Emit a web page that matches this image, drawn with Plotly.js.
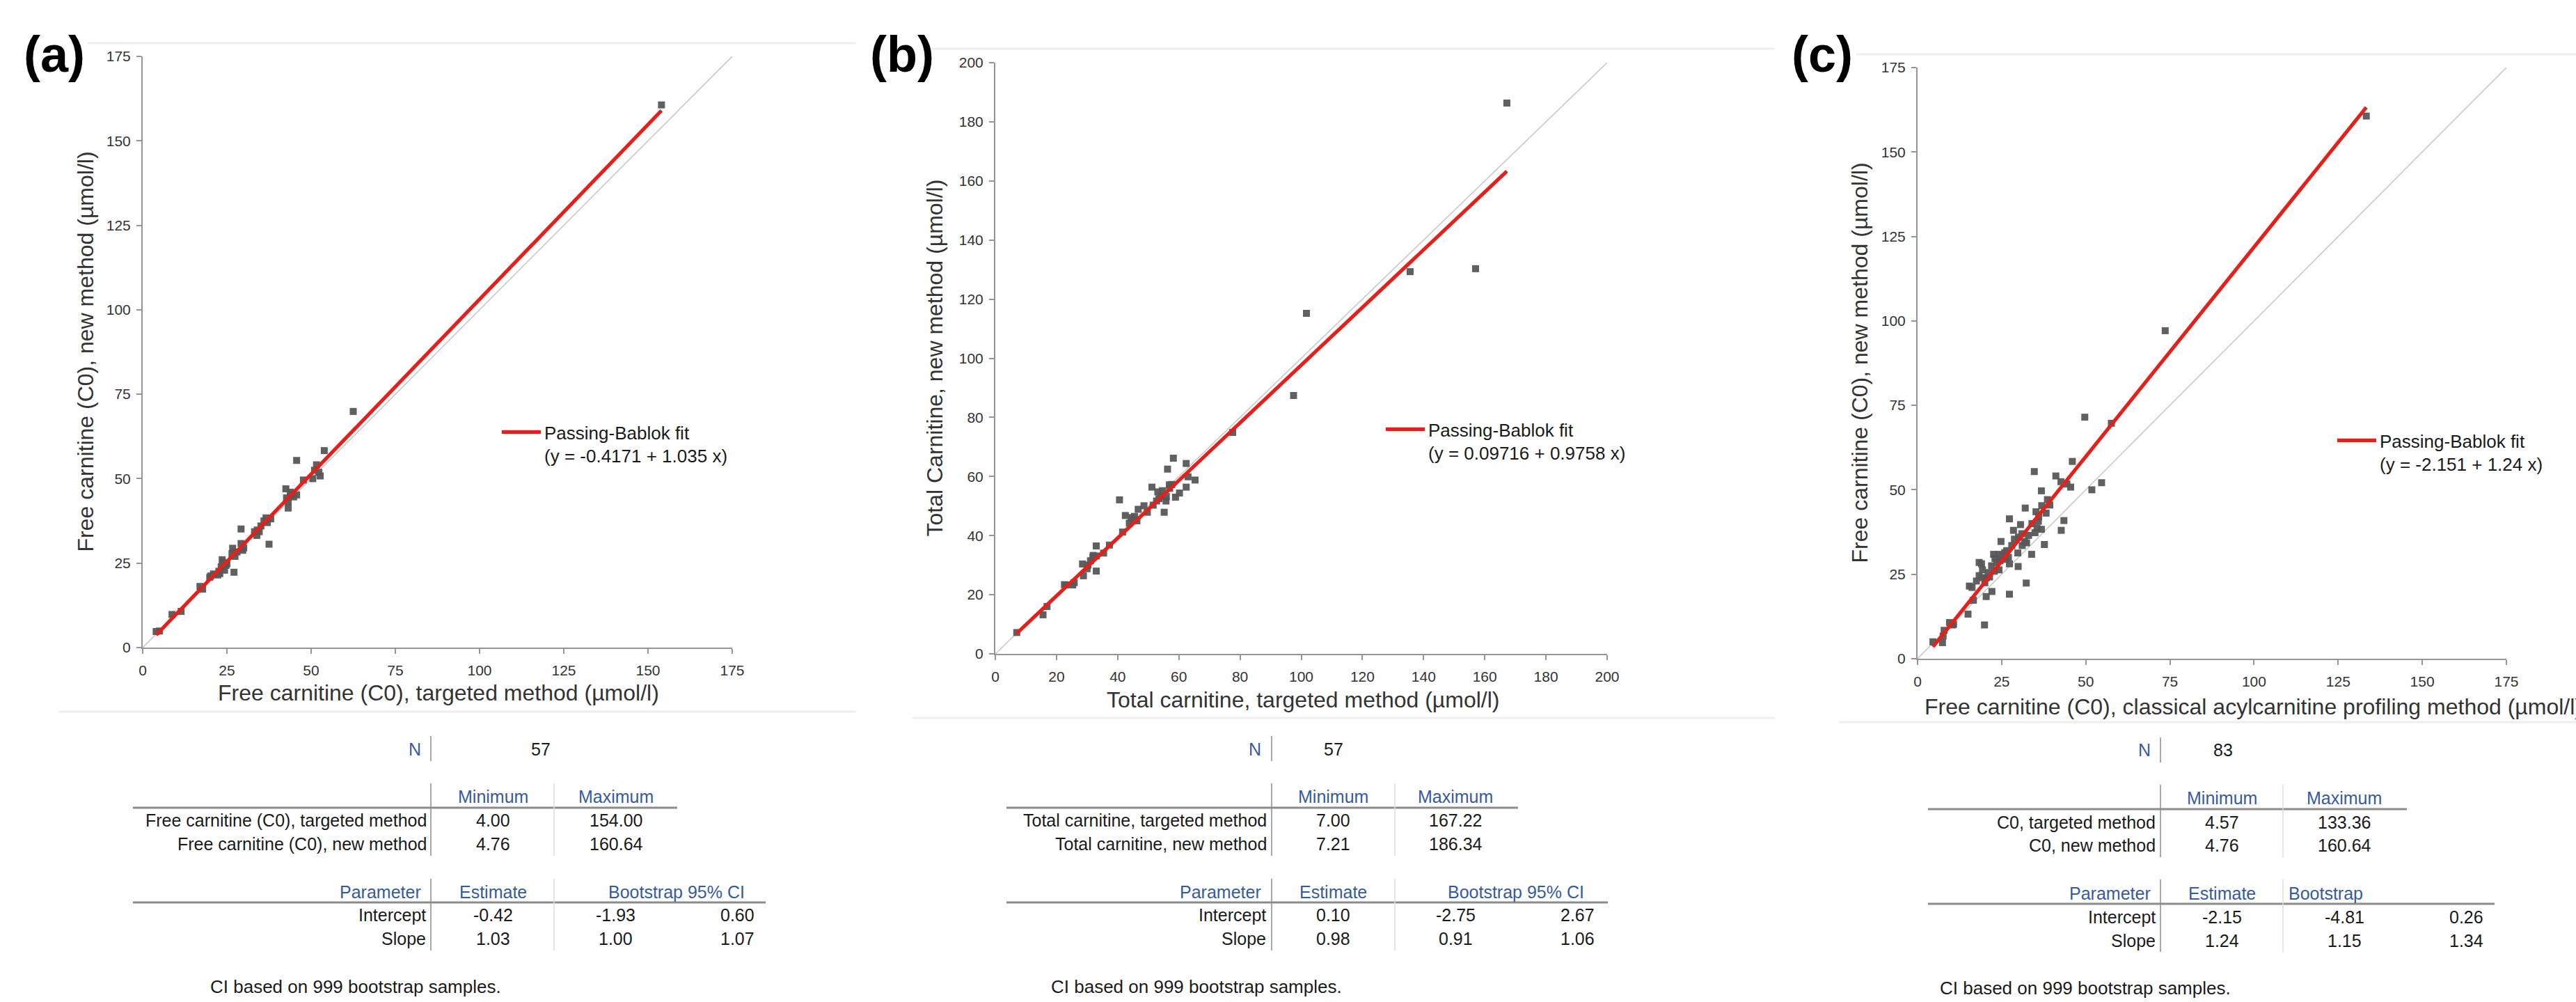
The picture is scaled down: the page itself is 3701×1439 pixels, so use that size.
<!DOCTYPE html>
<html>
<head>
<meta charset="utf-8">
<script src="https://cdn.plot.ly/plotly-3.0.1.min.js"></script>
<style>html,body{margin:0;padding:0;background:#fff;}#chart{width:3701px;height:1439px;}</style>
</head>
<body>
<div id="chart"></div>
<script>
// ---------------- DATA ----------------
// Panel (a): free carnitine C0, targeted (x) vs new method (y)
const aX = [4.0, 5.0, 8.7, 11.4, 17.0, 17.8, 19.9, 20.2, 22.3, 22.6, 23.3, 23.6, 24.0, 24.7, 24.3, 22.9, 27.1, 26.7, 27.1, 27.4, 29.2, 29.2, 29.7, 33.2, 33.9, 34.6, 35.1, 36.6, 38.0, 37.5, 42.5, 42.7, 43.2, 43.2, 44.2, 45.7, 45.7, 47.7, 50.5, 51.6, 52.3, 52.7, 53.9, 62.5, 154.0, 21.0, 23.8, 25.0, 26.5, 28.0, 30.0, 34.0, 36.0, 44.8, 43.8, 51.0, 37.0];
const aY = [4.76, 4.9, 9.8, 10.7, 18.1, 17.3, 20.8, 21.2, 21.5, 22.6, 23.9, 26.0, 24.6, 24.3, 22.9, 21.9, 22.3, 29.4, 28.1, 27.0, 30.8, 35.1, 28.8, 34.3, 33.2, 34.3, 36.0, 38.4, 38.1, 30.6, 47.0, 44.3, 43.2, 41.3, 45.3, 45.2, 55.4, 49.6, 50.0, 54.1, 51.9, 50.8, 58.3, 69.9, 160.64, 21.8, 25.2, 24.8, 27.8, 28.3, 29.5, 34.8, 37.5, 44.6, 46.0, 52.5, 37.0];
// Panel (b): total carnitine
const bX = [7.0, 15.6, 16.9, 22.6, 23.1, 25.3, 25.8, 28.5, 28.8, 30.0, 30.3, 31.1, 31.9, 33.0, 33.0, 33.0, 35.4, 37.3, 40.6, 41.6, 42.5, 43.8, 44.4, 45.1, 46.3, 46.7, 48.6, 49.7, 51.2, 51.6, 52.7, 53.1, 54.6, 55.2, 55.8, 55.9, 56.3, 56.9, 57.7, 58.2, 58.9, 60.2, 62.4, 62.4, 63.0, 65.3, 77.6, 54.2, 97.5, 101.7, 135.6, 157.0, 167.22, 32.0, 45.5, 53.5, 57.0];
const bY = [7.21, 13.2, 16.0, 23.4, 23.3, 23.3, 24.1, 30.4, 26.4, 28.8, 30.0, 31.5, 32.7, 36.5, 28.0, 33.1, 34.1, 36.8, 52.1, 41.2, 46.8, 44.2, 46.1, 45.3, 45.0, 48.9, 50.1, 47.9, 56.4, 50.3, 51.7, 54.8, 55.2, 47.9, 51.7, 53.2, 62.5, 57.2, 57.3, 66.2, 53.0, 54.4, 64.4, 56.4, 59.9, 58.8, 74.9, 53.2, 87.4, 115.2, 129.3, 130.3, 186.34, 33.3, 46.5, 52.5, 56.0];
// Panel (c): free carnitine C0, classical profiling (x) vs new method (y)
const cX = [4.57, 7.4, 7.6, 7.9, 9.5, 10.7, 10.4, 15.0, 19.9, 16.6, 15.4, 16.2, 20.4, 22.1, 27.3, 32.3, 18.3, 19.0, 19.3, 18.3, 19.3, 20.4, 21.4, 22.8, 24.2, 22.6, 23.0, 24.2, 25.2, 25.9, 26.2, 27.3, 24.8, 27.3, 28.5, 28.8, 29.8, 29.9, 30.6, 31.1, 31.8, 32.4, 32.0, 33.9, 34.9, 35.2, 35.5, 35.9, 36.8, 36.8, 36.9, 37.7, 38.2, 38.6, 39.3, 34.7, 41.1, 42.6, 43.5, 42.7, 44.4, 45.5, 46.0, 51.8, 54.7, 49.7, 57.6, 73.6, 133.36, 21.0, 22.0, 23.5, 24.5, 26.5, 27.0, 28.0, 30.0, 31.0, 33.0, 34.0, 36.0, 20.0, 17.5];
const cY = [5.0, 4.76, 6.7, 8.4, 10.7, 10.2, 10.0, 13.2, 10.0, 17.3, 21.5, 21.1, 18.4, 19.9, 19.1, 22.4, 28.5, 28.1, 26.3, 24.6, 24.0, 23.9, 24.2, 25.9, 26.3, 30.9, 29.7, 30.9, 30.4, 31.4, 29.4, 28.1, 34.7, 41.4, 38.0, 35.4, 31.3, 27.3, 39.7, 33.5, 34.7, 34.3, 44.6, 30.9, 37.3, 43.5, 38.7, 40.7, 38.3, 49.7, 45.3, 33.8, 43.1, 47.1, 45.5, 55.4, 54.1, 52.4, 40.9, 38.0, 51.7, 50.8, 58.4, 50.0, 52.1, 71.5, 69.7, 97.1, 160.64, 25.5, 27.5, 28.5, 29.0, 32.0, 30.0, 33.5, 36.0, 37.0, 36.5, 40.0, 42.0, 22.5, 23.0];

// Passing-Bablok fit parameters and fitted x-range (min/max of x data)
const fitIntercept = [-0.4171, 0.09716, -2.151];
const fitSlope = [1.035, 0.9758, 1.24];
const fitXRange = [[4.00, 154.00], [7.00, 167.22], [4.57, 133.36]];
const legendLabels = ['Passing-Bablok fit<br>(y = -0.4171 + 1.035 x)', 'Passing-Bablok fit<br>(y = 0.09716 + 0.9758 x)', 'Passing-Bablok fit<br>(y = -2.151 + 1.24 x)'];

// Axes
const axisMax = [175, 200, 175];
const axisStep = [25, 20, 25];
const xTitles = ['Free carnitine (C0), targeted method (µmol/l)', 'Total carnitine, targeted method (µmol/l)', 'Free carnitine (C0), classical acylcarnitine profiling method (µmol/l)'];
const yTitles = ['Free carnitine (C0), new method (µmol/l)', 'Total Carnitine, new method (µmol/l)', 'Free carnitine (C0), new method (µmol/l)'];
const panelLabels = ['(a)', '(b)', '(c)'];

// Tables
const nVals = ['57', '57', '83'];
const mmHeaders = ['Minimum', 'Maximum'];
const mmRowLabels = [['Free carnitine (C0), targeted method', 'Free carnitine (C0), new method'], ['Total carnitine, targeted method', 'Total carnitine, new method'], ['C0, targeted method', 'C0, new method']];
const minVals = [['4.00', '4.76'], ['7.00', '7.21'], ['4.57', '4.76']];
const maxVals = [['154.00', '160.64'], ['167.22', '186.34'], ['133.36', '160.64']];
const paramHeaders = ['Parameter', 'Estimate'];
const ciHeaders = ['Bootstrap 95% CI', 'Bootstrap 95% CI', 'Bootstrap'];
const paramLabels = ['Intercept', 'Slope'];
const estimates = [['-0.42', '1.03'], ['0.10', '0.98'], ['-2.15', '1.24']];
const ciLow = [['-1.93', '1.00'], ['-2.75', '0.91'], ['-4.81', '1.15']];
const ciHigh = [['0.60', '1.07'], ['2.67', '1.06'], ['0.26', '1.34']];
const noteText = 'CI based on 999 bootstrap samples.';

// ---------------- GEOMETRY (pixels) ----------------
const W = 3701, H = 1439;
const G = [
  {ax:[205,1052], ay:[81,930], lab:32, ytx:123, xtx:[630,995,'center'], leg:[716,597],
   sep:619, n:{lab:607,val:777,y:1076,l0:1057,l1:1093},
   mm:{y:1144,rule:1160,r:[1178,1212],l0:1125,l1:1229,ruleX:[191,973],min:708,max:885,col2:796,labR:615},
   pr:{y:1281,rule:1296,r:[1314,1348],l0:1262,l1:1365,ruleX:[191,1100],parR:607,est:708,ciH:972,ciA:'center',lo:884,hiR:1086,labR:614},
   note:[300,1417], frame:[[126,1230,62],[84,1230,1022]]},
  {ax:[1430,2309], ay:[90,939], lab:1248, ytx:1342, xtx:[1872,1005,'center'], leg:[1986,593],
   sep:1827, n:{lab:1814,val:1916,y:1076,l0:1057,l1:1093},
   mm:{y:1144,rule:1160,r:[1178,1212],l0:1125,l1:1229,ruleX:[1446,2181],min:1915,max:2091,col2:2004,labR:1822},
   pr:{y:1281,rule:1296,r:[1314,1348],l0:1262,l1:1365,ruleX:[1446,2310],parR:1814,est:1915,ciH:2178,ciA:'center',lo:2091,hiR:2293,labR:1821},
   note:[1508,1417], frame:[[1335,2550,70],[1311,2550,1031]]},
  {ax:[2755,3601], ay:[97,946], lab:2572, ytx:2671, xtx:[2763,1015,'left'], leg:[3353,609],
   sep:3104, n:{lab:3092,val:3194,y:1077,l0:1059,l1:1095},
   mm:{y:1146,rule:1162,r:[1181,1214],l0:1127,l1:1231,ruleX:[2770,3458],min:3192,max:3368,col2:3280,labR:3099},
   pr:{y:1283,rule:1298,r:[1317,1351],l0:1263,l1:1367,ruleX:[2770,3584],parR:3092,est:3192,ciH:3286,ciA:'left',lo:3368,hiR:3570,labR:3099},
   note:[2785,1419], frame:[[2667,3701,78],[2642,3701,1037]]}
];

const FONT = 'Liberation Sans, Arial, sans-serif';
const HEAD = '#375a9e';
const TXT = '#1a1a1a';
const px = x => x / W;
const py = y => 1 - y / H;

const xs = [aX, bX, cX], ys = [aY, bY, cY];
const traces = [];
const layout = {
  width: W, height: H, margin: {l:0, r:0, t:0, b:0},
  paper_bgcolor: '#fff', plot_bgcolor: '#fff',
  font: {family: FONT, color: TXT},
  showlegend: true, annotations: [], shapes: []
};

function ann(text, x, y, xa, size, color, extra) {
  return Object.assign({xref:'paper', yref:'paper', x: px(x), y: py(y), text: text, showarrow:false,
    xanchor: xa, yanchor:'middle', font:{family:FONT, size:size, color:color}}, extra || {});
}
function line(x0, y0, x1, y1, color, w) {
  return {type:'line', xref:'paper', yref:'paper', x0:px(x0), y0:py(y0), x1:px(x1), y1:py(y1), line:{color:color, width:w}, layer:'above'};
}

for (let i = 0; i < 3; i++) {
  const g = G[i];
  const sx = i === 0 ? '' : String(i + 1);
  const xa = 'x' + sx, ya = 'y' + sx;
  const legName = 'legend' + sx;
  const axCommon = {
    range: [0, axisMax[i]], dtick: axisStep[i], tick0: 0, showgrid: false, zeroline: false,
    showline: true, linecolor: '#959595', linewidth: 2, ticks: 'outside', ticklen: 7, tickwidth: 2,
    tickcolor: '#959595', tickfont: {family: FONT, size: 21, color: '#333'}, fixedrange: true
  };
  layout['xaxis' + sx] = Object.assign({}, axCommon, {domain: [px(g.ax[0]), px(g.ax[1])], anchor: ya, ticklabelstandoff: 6});
  layout['yaxis' + sx] = Object.assign({}, axCommon, {domain: [py(g.ay[1]), py(g.ay[0])], anchor: xa, ticklabelstandoff: 4});

  // identity line
  traces.push({type:'scatter', mode:'lines', x:[0, axisMax[i]], y:[0, axisMax[i]], xaxis:xa, yaxis:ya,
    line:{color:'#c9c9c9', width:1.6}, showlegend:false, hoverinfo:'skip'});
  // data points
  traces.push({type:'scatter', mode:'markers', x: xs[i], y: ys[i], xaxis:xa, yaxis:ya,
    marker:{symbol:'square', size:10, color:'#575757', opacity:0.95, line:{width:0}}, showlegend:false});
  // fit line
  const fx = fitXRange[i];
  traces.push({type:'scatter', mode:'lines', x: fx, y: fx.map(v => fitIntercept[i] + fitSlope[i] * v), xaxis:xa, yaxis:ya,
    line:{color:'#e3211c', width:5.2}, name: legendLabels[i], legend: legName, showlegend:true});
  layout[legName] = {x: px(g.leg[0]), y: py(g.leg[1]), xanchor:'left', yanchor:'top', bgcolor:'rgba(0,0,0,0)',
    font:{family:FONT, size:26, color:TXT}, valign:'top', itemwidth:56, tracegroupgap:0};

  // panel label
  layout.annotations.push(ann('<b>' + panelLabels[i] + '</b>', g.lab, 78, 'left', 72, '#000'));
  // axis titles
  layout.annotations.push(ann(yTitles[i], g.ytx, (g.ay[0] + g.ay[1]) / 2, 'center', 32, '#333', {textangle:-90}));
  layout.annotations.push(ann(xTitles[i], g.xtx[0], g.xtx[1], g.xtx[2], 32, '#333'));

  // faint frame lines of output viewer
  g.frame.forEach(f => layout.shapes.push(line(f[0], f[2], f[1], f[2], '#efefef', 3)));

  // N table
  layout.annotations.push(ann('N', g.n.lab, g.n.y, 'right', 25, HEAD));
  layout.annotations.push(ann(nVals[i], g.n.val, g.n.y, 'center', 25, TXT));
  layout.shapes.push(line(g.sep, g.n.l0, g.sep, g.n.l1, '#8c8c8c', 1.5));

  // Min/Max table
  const m = g.mm;
  layout.annotations.push(ann(mmHeaders[0], m.min, m.y, 'center', 25, HEAD));
  layout.annotations.push(ann(mmHeaders[1], m.max, m.y, 'center', 25, HEAD));
  for (let r = 0; r < 2; r++) {
    layout.annotations.push(ann(mmRowLabels[i][r], m.labR, m.r[r], 'right', 25, TXT));
    layout.annotations.push(ann(minVals[i][r], m.min, m.r[r], 'center', 25, TXT));
    layout.annotations.push(ann(maxVals[i][r], m.max, m.r[r], 'center', 25, TXT));
  }
  layout.shapes.push(line(m.ruleX[0], m.rule, m.ruleX[1], m.rule, '#8c8c8c', 3));
  layout.shapes.push(line(g.sep, m.l0, g.sep, m.l1, '#8c8c8c', 1.5));
  layout.shapes.push(line(m.col2, m.l0, m.col2, m.l1, '#dcdcdc', 1.5));

  // Parameter table
  const p = g.pr;
  layout.annotations.push(ann(paramHeaders[0], p.parR, p.y, 'right', 25, HEAD));
  layout.annotations.push(ann(paramHeaders[1], p.est, p.y, 'center', 25, HEAD));
  layout.annotations.push(ann(ciHeaders[i], p.ciH, p.y, p.ciA, 25, HEAD));
  for (let r = 0; r < 2; r++) {
    layout.annotations.push(ann(paramLabels[r], p.labR, p.r[r], 'right', 25, TXT));
    layout.annotations.push(ann(estimates[i][r], p.est, p.r[r], 'center', 25, TXT));
    layout.annotations.push(ann(ciLow[i][r], p.lo, p.r[r], 'center', 25, TXT));
    layout.annotations.push(ann(ciHigh[i][r], p.hiR, p.r[r], 'right', 25, TXT));
  }
  layout.shapes.push(line(p.ruleX[0], p.rule, p.ruleX[1], p.rule, '#8c8c8c', 3));
  layout.shapes.push(line(g.sep, p.l0, g.sep, p.l1, '#8c8c8c', 1.5));
  layout.shapes.push(line(m.col2, p.l0, m.col2, p.l1, '#dcdcdc', 1.5));

  layout.annotations.push(ann(noteText, g.note[0], g.note[1], 'left', 26, TXT));
}

Plotly.newPlot('chart', traces, layout, {staticPlot: true, displayModeBar: false});
</script>
</body>
</html>
